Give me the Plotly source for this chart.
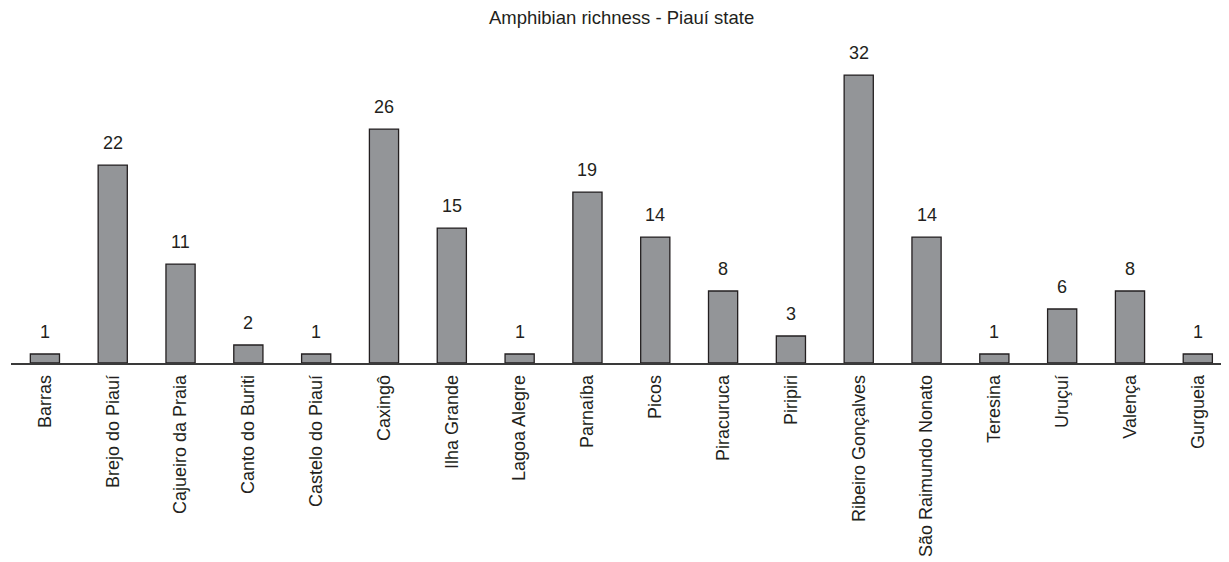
import plotly.graph_objects as go

municipalities = ["Barras", "Brejo do Piauí", "Cajueiro da Praia", "Canto do Buriti",
                  "Castelo do Piauí", "Caxingô", "Ilha Grande", "Lagoa Alegre",
                  "Parnaíba", "Picos", "Piracuruca", "Piripiri", "Ribeiro Gonçalves",
                  "São Raimundo Nonato", "Teresina", "Uruçuí", "Valença", "Gurgueia"]
richness = [1, 22, 11, 2, 1, 26, 15, 1, 19, 14, 8, 3, 32, 14, 1, 6, 8, 1]

FONT = "Liberation Sans, Arial, sans-serif"
INK = "#231f20"

fig = go.Figure()
fig.add_trace(go.Bar(
    x=municipalities, y=richness, width=0.43,
    marker=dict(color="#939598", line=dict(color=INK, width=1.3)),
    hoverinfo="x+y",
))
for m, v in zip(municipalities, richness):
    fig.add_annotation(x=m, y=v, text=str(v), showarrow=False, yanchor="bottom",
                       yshift=10, font=dict(family=FONT, size=18, color=INK))

# page has an 8px body margin, so the figure is sized to fit the window
fig.update_layout(
    width=1221, height=554,
    margin=dict(l=3, r=0, t=32, b=199),
    plot_bgcolor="white", paper_bgcolor="white",
    showlegend=False,
    title=dict(text="Amphibian richness - Piauí state", x=0.5025, xanchor="center",
               y=0.982, yanchor="middle", font=dict(family=FONT, size=18.5, color=INK)),
    xaxis=dict(range=[-0.5, 17.46], tickangle=-90, showline=True, linecolor="#3a3a3a",
               linewidth=1.5, ticks="", showgrid=False, zeroline=False,
               tickfont=dict(family=FONT, size=18, color=INK), ticklabelstandoff=3),
    yaxis=dict(range=[0, 35.9], visible=False, showgrid=False, zeroline=False),
)
fig.write_html("out.html")
